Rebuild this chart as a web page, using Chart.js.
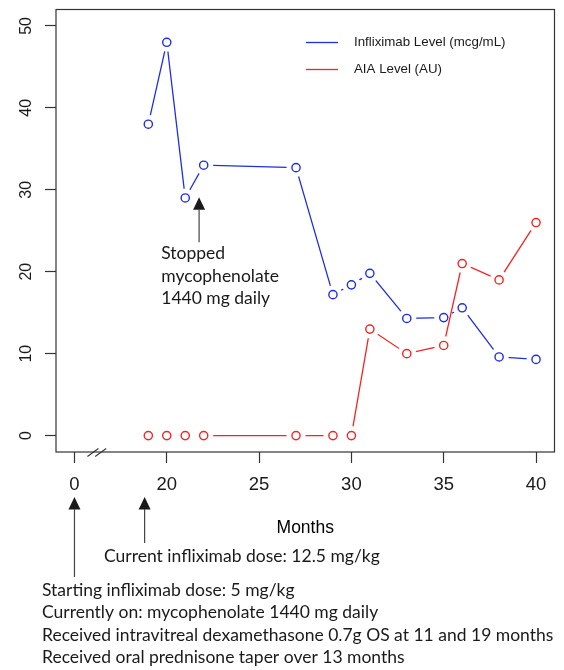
<!DOCTYPE html>
<html>
<head>
<meta charset="utf-8">
<script src="https://cdn.jsdelivr.net/npm/chart.js@4.4.1/dist/chart.umd.min.js"></script>
<style>
  html, body { margin: 0; padding: 0; background: #fff; }
  #wrap { width: 564px; height: 670px; }
</style>
</head>
<body>
<div id="wrap"><canvas id="levelsChart" width="564" height="670"></canvas></div>
<script>
// data (x axis is broken: "0" sits where 15 would be)
var months = [19, 20, 21, 22, 27, 29, 30, 31, 33, 35, 36, 38, 40];
var infliximab = [38, 48, 29, 33, 32.7, 17.2, 18.4, 19.8, 14.3, 14.4, 15.6, 9.6, 9.3];
var aia = [0, 0, 0, 0, 0, 0, 0, 13, 10, 11, 21, 19, 26];
var xTickValues = [15, 20, 25, 30, 35, 40];
var xTickLabels = ["0", "20", "25", "30", "35", "40"];
var yTickValues = [0, 10, 20, 30, 40, 50];
var seriesNames = ["Infliximab Level (mcg/mL)", "AIA Level (AU)"];
var stoppedNote = ["Stopped", "mycophenolate", "1440 mg daily"];
var currentNote = "Current infliximab dose: 12.5 mg/kg";
var startNotes = [
  "Starting infliximab dose: 5 mg/kg",
  "Currently on: mycophenolate 1440 mg daily",
  "Received intravitreal dexamethasone 0.7g OS at 11 and 19 months",
  "Received oral prednisone taper over 13 months"
];

var BLUE = "rgb(30, 45, 230)";
var RED = "rgb(245, 35, 35)";
var INK = "#1a1a1a";
var SANS = "'Liberation Sans', Arial, sans-serif";
var NOTE = "Lato, 'Open Sans', sans-serif";

function pts(ys) {
  return months.map(function (m, i) { return { x: m, y: ys[i] }; });
}

// circles with a white halo, so the line stops short of each point (R type="b")
function pointSet(ys, color) {
  return { data: pts(ys), showLine: false, pointRadius: 4.1, pointBorderWidth: 1.4,
    pointBorderColor: color, pointBackgroundColor: "#fff", pointHoverRadius: 4.1 };
}
function maskSet(ys) {
  return { data: pts(ys), showLine: false, pointRadius: 9.5, pointBorderWidth: 0,
    pointBackgroundColor: "#fff", pointBorderColor: "#fff", pointHoverRadius: 9.5 };
}
function lineSet(ys, color) {
  return { data: pts(ys), borderColor: color, borderWidth: 1.3, pointRadius: 0,
    pointHoverRadius: 0, tension: 0, fill: false };
}

function arrow(ctx, x, tipY, endY) {
  ctx.beginPath();
  ctx.moveTo(x, tipY);
  ctx.lineTo(x - 6, tipY + 12.5);
  ctx.lineTo(x + 6, tipY + 12.5);
  ctx.closePath();
  ctx.fill();
  ctx.beginPath();
  ctx.moveTo(x, tipY + 12);
  ctx.lineTo(x, endY);
  ctx.stroke();
}

var extras = {
  id: "extras",
  afterDraw: function (chart) {
    var ctx = chart.ctx, ca = chart.chartArea;
    var xs = chart.scales.x, ys = chart.scales.y;
    ctx.save();

    // plot box
    ctx.strokeStyle = "#333";
    ctx.lineWidth = 1.2;
    ctx.strokeRect(ca.left, ca.top, ca.right - ca.left, ca.bottom - ca.top);

    // axis break marks
    ctx.lineWidth = 1.1;
    [16.0, 16.42].forEach(function (v) {
      var bx = xs.getPixelForValue(v);
      ctx.beginPath();
      ctx.moveTo(bx - 5.5, ca.bottom + 4.5);
      ctx.lineTo(bx + 5.5, ca.bottom - 3.5);
      ctx.stroke();
    });

    // y tick labels, rotated like R
    ctx.fillStyle = INK;
    ctx.font = "16px " + SANS;
    ctx.textAlign = "center";
    ctx.textBaseline = "middle";
    yTickValues.forEach(function (v) {
      ctx.save();
      ctx.translate(27, ys.getPixelForValue(v));
      ctx.rotate(-Math.PI / 2);
      ctx.fillText(String(v), 0, 0);
      ctx.restore();
    });

    // legend
    ctx.font = "13.3px " + SANS;
    ctx.textAlign = "left";
    [BLUE, RED].forEach(function (c, i) {
      var ly = ca.top + 33 + i * 27;
      ctx.strokeStyle = c;
      ctx.lineWidth = 1.3;
      ctx.beginPath();
      ctx.moveTo(ca.left + 250, ly);
      ctx.lineTo(ca.left + 282, ly);
      ctx.stroke();
      ctx.fillStyle = INK;
      ctx.fillText(seriesNames[i], ca.left + 298, ly);
    });

    // x axis title
    ctx.font = "17.5px " + SANS;
    ctx.textAlign = "center";
    ctx.textBaseline = "alphabetic";
    ctx.fillStyle = "#000";
    ctx.fillText("Months", (ca.left + ca.right) / 2, 533);

    // annotations
    ctx.fillStyle = INK;
    ctx.strokeStyle = "#444";
    ctx.lineWidth = 1.2;
    var sx = xs.getPixelForValue(21.75);
    var tip = ys.getPixelForValue(29.1);
    arrow(ctx, sx, tip, tip + 45);
    ctx.font = "17.5px " + NOTE;
    ctx.textAlign = "left";
    stoppedNote.forEach(function (t, i) {
      ctx.fillText(t, xs.getPixelForValue(19.7), tip + 62 + i * 22.4);
    });

    arrow(ctx, xs.getPixelForValue(15), 497, 577);
    arrow(ctx, xs.getPixelForValue(18.8), 497, 543);
    ctx.fillText(currentNote, 104, 561.7);
    startNotes.forEach(function (t, i) {
      ctx.fillText(t, 42, 596 + i * 22.4);
    });
    ctx.restore();
  }
};

var levelsChart = new Chart(document.getElementById("levelsChart").getContext("2d"), {
  type: "line",
  data: {
    datasets: [
      pointSet(infliximab, BLUE),
      pointSet(aia, RED),
      maskSet(aia),
      lineSet(aia, RED),
      maskSet(infliximab),
      lineSet(infliximab, BLUE)
    ]
  },
  options: {
    responsive: false,
    animation: false,
    layout: { padding: { top: 9, right: 2, left: 0, bottom: 0 } },
    plugins: { legend: { display: false }, tooltip: { enabled: false } },
    events: [],
    scales: {
      x: {
        type: "linear",
        min: 14,
        max: 41,
        afterBuildTicks: function (axis) {
          axis.ticks = xTickValues.map(function (v) { return { value: v }; });
        },
        afterFit: function (scale) { scale.height = 218; },
        border: { display: false },
        grid: { drawOnChartArea: false, drawTicks: true, tickLength: 11, tickColor: "#333", tickWidth: 1.2 },
        ticks: {
          autoSkip: false,
          maxRotation: 0,
          padding: 11,
          color: INK,
          font: { family: SANS, size: 18.5 },
          callback: function (value) {
            var i = xTickValues.indexOf(value);
            return i >= 0 ? xTickLabels[i] : "";
          }
        }
      },
      y: {
        min: -2,
        max: 52,
        afterBuildTicks: function (axis) {
          axis.ticks = yTickValues.map(function (v) { return { value: v }; });
        },
        afterFit: function (scale) { scale.width = 56; },
        border: { display: false },
        grid: { drawOnChartArea: false, drawTicks: true, tickLength: 11, tickColor: "#333", tickWidth: 1.2 },
        ticks: { display: false }
      }
    }
  },
  plugins: [extras]
});
</script>
</body>
</html>
